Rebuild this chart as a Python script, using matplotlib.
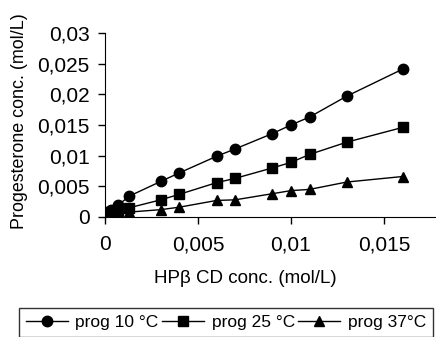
import matplotlib
matplotlib.use("Agg")
import matplotlib.pyplot as plt
from matplotlib.ticker import FuncFormatter

plt.rcParams["font.family"] = ["Liberation Sans", "DejaVu Sans"]

# HPbCD concentration (mol/L)
hpbcd = [0.0, 0.0001, 0.0003, 0.0007, 0.0013, 0.003, 0.004, 0.006,
         0.007, 0.009, 0.010, 0.011, 0.013, 0.016]
# progesterone solubility (mol/L) at each temperature
prog_10 = [0.0004, 0.0008, 0.0012, 0.0019, 0.0034, 0.0058, 0.0072, 0.0099,
           0.0111, 0.0136, 0.0150, 0.0163, 0.0197, 0.0241]
prog_25 = [0.0001, 0.0002, 0.0004, 0.0009, 0.0015, 0.0028, 0.0037, 0.0056,
           0.0063, 0.0080, 0.0089, 0.0102, 0.0122, 0.0146]
prog_37 = [0.0, 0.0001, 0.0002, 0.0004, 0.0008, 0.0012, 0.0016, 0.0027,
           0.0028, 0.0038, 0.0043, 0.0045, 0.0057, 0.0066]
labels = ["prog 10 °C", "prog 25 °C", "prog 37°C"]
markers = ["o", "s", "^"]

W, H = 436, 337
fig = plt.figure(figsize=(W / 100, H / 100), dpi=100)
ax = fig.add_axes([105 / W, 1 - 217 / H, (W - 105) / W, (217 - 33) / H])

for ys, lab, m in zip([prog_10, prog_25, prog_37], labels, markers):
    ax.plot(hpbcd, ys, color="black", lw=1, marker=m, ms=7.5, label=lab)

ax.set_xlim(0, 0.0178)
ax.set_ylim(0, 0.03)
ax.set_xticks([0, 0.005, 0.01, 0.015])
ax.set_yticks([0, 0.005, 0.01, 0.015, 0.02, 0.025, 0.03])
fmt = FuncFormatter(lambda v, p: ("%g" % v).replace(".", ","))
ax.xaxis.set_major_formatter(fmt)
ax.yaxis.set_major_formatter(fmt)
for s in ["top", "right"]:
    ax.spines[s].set_visible(False)
ax.tick_params(direction="out", length=5, width=1, labelsize=15, pad=6)
ax.tick_params(axis="x", pad=8)
ax.set_xlabel("HPβ CD conc. (mol/L)", fontsize=13.5)
ax.set_ylabel("Progesterone conc. (mol/L)", fontsize=12.9)
ax.xaxis.set_label_coords((245 - 105) / (W - 105), -(270 - 217) / (217 - 33))
ax.yaxis.set_label_coords(-(105 - 28) / (W - 105), (217 - 121.5) / (217 - 33))

leg = fig.legend(loc="upper left", bbox_to_anchor=(19 / W, 1 - 308 / H),
                 ncol=3, frameon=True, fancybox=False, fontsize=12.5,
                 handlelength=2.4, handletextpad=0.45, columnspacing=0.2,
                 borderaxespad=0, borderpad=0.4, edgecolor="black")
leg.get_frame().set_linewidth(1)

fig.savefig("out.png", dpi=100)
